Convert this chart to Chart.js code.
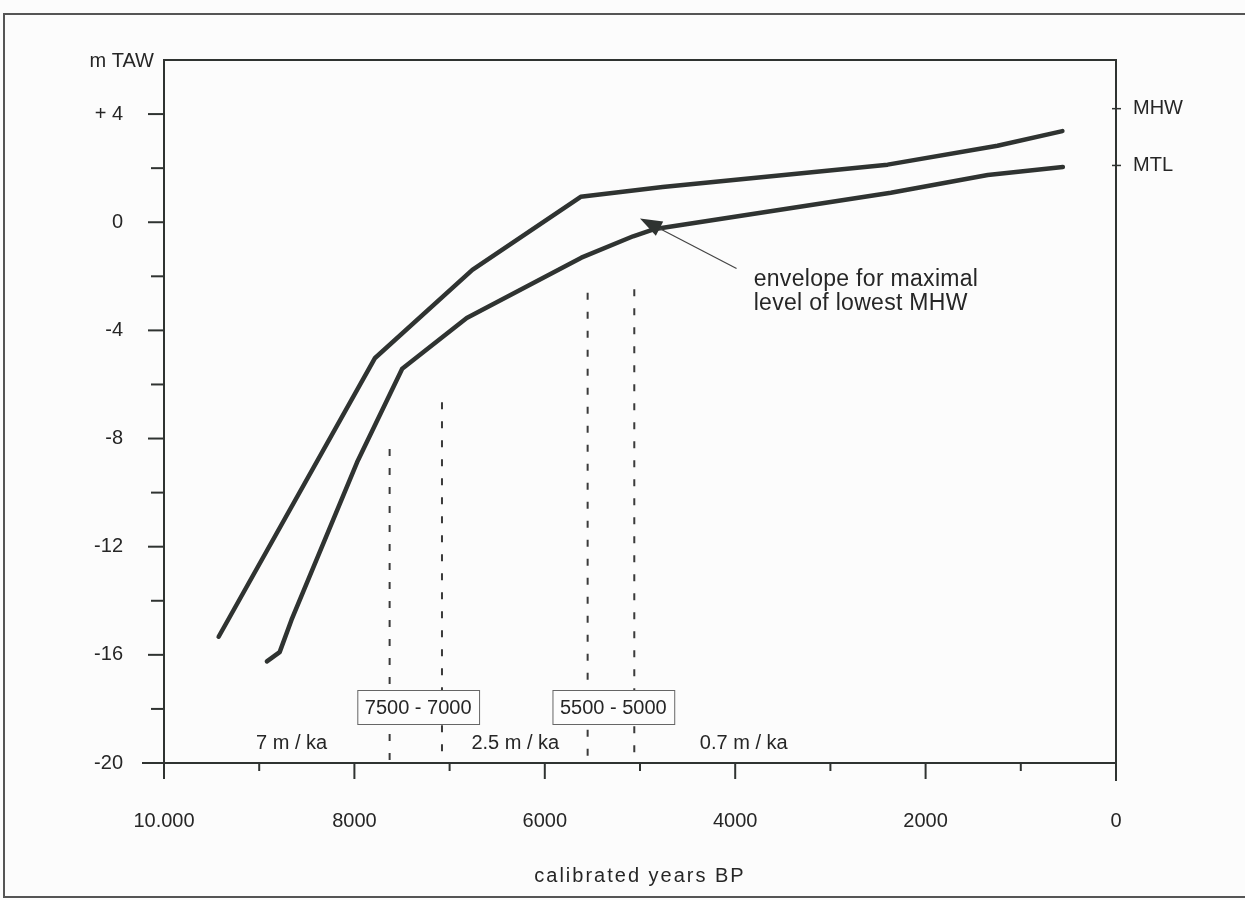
<!DOCTYPE html>
<html>
<head>
<meta charset="utf-8">
<script src="https://cdn.jsdelivr.net/npm/chart.js@4.4.1/dist/chart.umd.min.js"></script>
<style>
  html, body { margin: 0; padding: 0; background: #fcfcfc; }
  #wrap { width: 1245px; height: 900px; position: relative; }
</style>
</head>
<body>
<div id="wrap"><canvas id="chart"></canvas></div>
<script>
/* sea-level envelopes, calibrated years BP vs m TAW */

// upper envelope
const UPPER_YEARS = [9426, 7783, 6761, 5623, 4762, 2399, 1245, 563];
const UPPER_LEVEL = [-15.33, -5.02, -1.76, 0.94, 1.30, 2.13, 2.83, 3.37];

// lower envelope (maximal level of lowest MHW)
const LOWER_YEARS = [8919, 8785, 8661, 7972, 7498, 6820, 5616, 5072, 4842, 2365, 1347, 558];
const LOWER_LEVEL = [-16.24, -15.90, -14.71, -8.88, -5.42, -3.54, -1.31, -0.52, -0.25, 1.09, 1.75, 2.04];

// dashed period boundaries
const PERIOD_YEARS = [7630, 7080, 5550, 5060];
const PERIOD_TOP = [-8.39, -6.66, -2.61, -2.48];
const PERIOD_LABELS = ['7500 - 7000', '5500 - 5000'];

// rise rates per segment
const RATE_LABELS = ['7 m / ka', '2.5 m / ka', '0.7 m / ka'];

// tidal reference levels on the right axis
const REF_LEVELS = [4.2, 2.1];
const REF_NAMES = ['MHW', 'MTL'];

const NOTE_LINES = ['envelope for maximal', 'level of lowest MHW'];

// where the annotations sit (data coords)
const PERIOD_LABEL_AT = [7330, 5280];
const RATE_AT = [8660, 6310, 3910];
const NOTE_AT = [3806, -2.34];
const ARROW_FROM = [3986, -1.71];
const ARROW_TO = [5000, 0.14];

const FONT = '"Liberation Sans", Arial, Helvetica, sans-serif';
const TEXT = '#262626';
const INK = '#2f3331';

const pts = (xs, ys) => xs.map((v, i) => ({ x: v, y: ys[i] }));

function line(ctx, x1, y1, x2, y2) {
  ctx.beginPath(); ctx.moveTo(x1, y1); ctx.lineTo(x2, y2); ctx.stroke();
}

const decor = {
  id: 'decor',
  beforeDraw(chart) {
    const { ctx, width, height } = chart;
    ctx.save();
    ctx.fillStyle = '#fcfcfc';
    ctx.fillRect(0, 0, width, height);
    // page frame of the scan
    ctx.strokeStyle = '#555'; ctx.lineWidth = 2;
    ctx.beginPath();
    ctx.moveTo(width, 14); ctx.lineTo(4, 14); ctx.lineTo(4, 897); ctx.lineTo(width, 897);
    ctx.stroke();
    ctx.restore();
  },
  afterDatasetsDraw(chart) {
    const { ctx, chartArea: a, scales: { x, y, y2 } } = chart;
    ctx.save();
    ctx.strokeStyle = INK; ctx.lineWidth = 2; ctx.lineCap = 'butt';

    // axis box
    ctx.beginPath();
    ctx.moveTo(a.left - 22, a.bottom); ctx.lineTo(a.right, a.bottom);
    ctx.moveTo(a.left, a.bottom); ctx.lineTo(a.left, a.top); ctx.lineTo(a.right, a.top); ctx.lineTo(a.right, a.bottom + 18);
    ctx.stroke();

    y.ticks.forEach(t => {
      const py = y.getPixelForValue(t.value);
      line(ctx, a.left - (t.value % 4 ? 13 : 16), py, a.left, py);
    });
    x.ticks.forEach(t => {
      const px = x.getPixelForValue(t.value);
      line(ctx, px, a.bottom, px, a.bottom + (t.value % 2000 === 0 ? 16 : 8));
    });
    ctx.lineWidth = 1.5;
    y2.ticks.forEach(t => {
      const py = y2.getPixelForValue(t.value);
      line(ctx, a.right - 4, py, a.right + 5, py);
    });

    ctx.fillStyle = TEXT;
    ctx.font = `20px ${FONT}`;

    // y unit
    ctx.textAlign = 'right'; ctx.textBaseline = 'middle';
    ctx.fillText('m TAW', a.left - 10, a.top + 1);

    // period boxes
    ctx.textAlign = 'center';
    PERIOD_LABELS.forEach((txt, i) => {
      const cx = x.getPixelForValue(PERIOD_LABEL_AT[i]);
      const cy = a.bottom - 56;
      const w = ctx.measureText(txt).width + 15, h = 34;
      ctx.fillStyle = '#fdfdfd';
      ctx.fillRect(cx - w / 2, cy - h / 2, w, h);
      ctx.strokeStyle = '#666'; ctx.lineWidth = 1;
      ctx.strokeRect(cx - w / 2 + 0.5, cy - h / 2 + 0.5, w, h);
      ctx.fillStyle = TEXT;
      ctx.fillText(txt, cx, cy + 1);
    });

    // rates
    ctx.textBaseline = 'alphabetic';
    RATE_LABELS.forEach((txt, i) => {
      ctx.fillText(txt, x.getPixelForValue(RATE_AT[i]), a.bottom - 14);
    });

    // x title
    ctx.letterSpacing = '2px';
    ctx.textBaseline = 'middle';
    ctx.fillText('calibrated years BP', (a.left + a.right) / 2, 876);

    // note + arrow
    ctx.letterSpacing = '0.3px';
    ctx.font = `23px ${FONT}`;
    ctx.textAlign = 'left'; ctx.textBaseline = 'alphabetic';
    const nx = x.getPixelForValue(NOTE_AT[0]), ny = y.getPixelForValue(NOTE_AT[1]);
    NOTE_LINES.forEach((txt, i) => ctx.fillText(txt, nx, ny + i * 24));

    const tx = x.getPixelForValue(ARROW_FROM[0]), ty = y.getPixelForValue(ARROW_FROM[1]);
    const hx = x.getPixelForValue(ARROW_TO[0]), hy = y.getPixelForValue(ARROW_TO[1]);
    const len = Math.hypot(hx - tx, hy - ty);
    const ux = (hx - tx) / len, uy = (hy - ty) / len;
    const bx = hx - ux * 22, by = hy - uy * 22;
    ctx.strokeStyle = '#444'; ctx.lineWidth = 1.2;
    line(ctx, tx, ty, bx, by);
    ctx.fillStyle = INK;
    ctx.beginPath();
    ctx.moveTo(hx, hy);
    ctx.lineTo(bx - uy * 8, by + ux * 8);
    ctx.lineTo(bx + uy * 8, by - ux * 8);
    ctx.closePath();
    ctx.fill();
    ctx.restore();
  },
};

const periodSets = PERIOD_YEARS.map((yr, i) => ({
  data: [{ x: yr, y: PERIOD_TOP[i] }, { x: yr, y: -20 }],
  borderColor: '#3a3a3a', borderWidth: 2, borderDash: [7, 12], pointRadius: 0,
}));

new Chart(document.getElementById('chart'), {
  type: 'line',
  data: {
    datasets: [
      { data: pts(UPPER_YEARS, UPPER_LEVEL), borderColor: INK, borderWidth: 4.5, pointRadius: 0, tension: 0, borderJoinStyle: 'round', borderCapStyle: 'round' },
      { data: pts(LOWER_YEARS, LOWER_LEVEL), borderColor: INK, borderWidth: 4.5, pointRadius: 0, tension: 0, borderJoinStyle: 'round', borderCapStyle: 'round' },
      ...periodSets,
    ],
  },
  options: {
    responsive: true,
    maintainAspectRatio: false,
    animation: false,
    layout: { padding: { top: 60, left: 0, right: 0, bottom: 0 } },
    plugins: { legend: { display: false }, tooltip: { enabled: false } },
    scales: {
      x: {
        type: 'linear', reverse: true, min: 0, max: 10000, position: 'bottom',
        grid: { display: false, drawTicks: false, tickLength: 0 }, border: { display: false },
        ticks: {
          stepSize: 1000, autoSkip: false, maxRotation: 0, padding: 46, color: TEXT,
          font: { family: FONT, size: 20 },
          callback: v => (v % 2000 ? '' : (v === 10000 ? '10.000' : String(v))),
        },
        afterFit: s => { s.height = 137; },
      },
      y: {
        type: 'linear', min: -20, max: 6, position: 'left',
        grid: { display: false, drawTicks: false, tickLength: 0 }, border: { display: false },
        ticks: {
          stepSize: 2, autoSkip: false, padding: 41, color: TEXT,
          font: { family: FONT, size: 20 },
          callback: v => (v % 4 ? '' : (v > 0 ? '+ ' + v : String(v))),
        },
        afterBuildTicks: s => { s.ticks = s.ticks.filter(t => t.value <= 4); },
        afterFit: s => { s.width = 164; },
      },
      y2: {
        type: 'linear', min: -20, max: 6, position: 'right',
        grid: { display: false, drawTicks: false, tickLength: 0 }, border: { display: false },
        ticks: {
          autoSkip: false, padding: 17, color: TEXT,
          font: { family: FONT, size: 20 },
          callback: (v, i) => REF_NAMES[i],
        },
        afterBuildTicks: s => { s.ticks = REF_LEVELS.map(v => ({ value: v })); },
        afterFit: s => { s.width = 129; },
      },
    },
  },
  plugins: [decor],
});
</script>
</body>
</html>
